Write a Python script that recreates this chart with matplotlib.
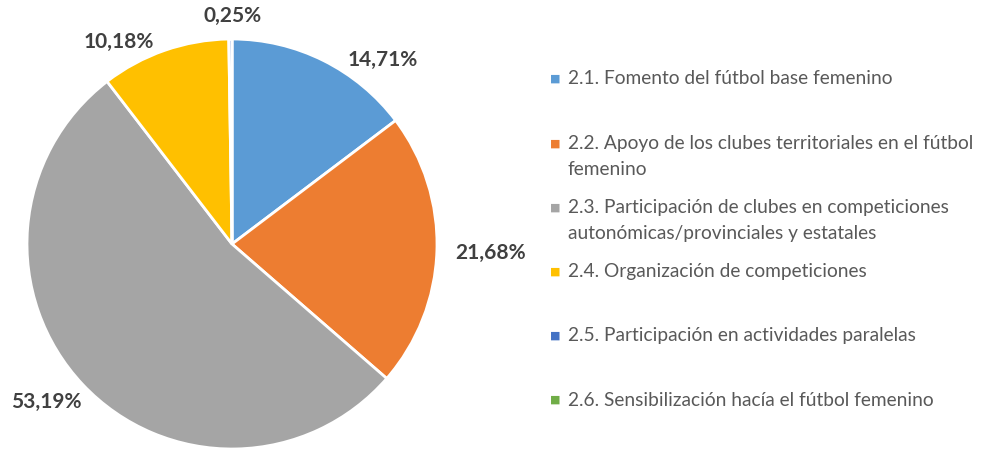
import numpy as np
import matplotlib
matplotlib.use("Agg")
import matplotlib.pyplot as plt

# data
labels = [
    "2.1. Fomento del fútbol base femenino",
    "2.2. Apoyo de los clubes territoriales en el fútbol\nfemenino",
    "2.3. Participación de clubes en competiciones\nautonómicas/provinciales y estatales",
    "2.4. Organización de competiciones",
    "2.5. Participación en actividades paralelas",
    "2.6. Sensibilización hacía el fútbol femenino",
]
values = [14.71, 21.68, 53.19, 10.18, 0.25, 0.0]
pct_text = ["14,71%", "21,68%", "53,19%", "10,18%", "0,25%", ""]
colors = ["#5B9BD5", "#ED7D31", "#A5A5A5", "#FFC000", "#4472C4", "#70AD47"]

# label placement (angle offset in degrees, distance in radii)
label_shift = [-13, 0, -3, 10, -0.5, 0]
label_dist = [1.16, 1.26, 1.19, 1.13, 1.11, 1.1]

W, H = 983, 451
fig = plt.figure(figsize=(W / 100, H / 100), dpi=100)
plt.rcParams["font.family"] = ["Lato", "DejaVu Sans"]

cx, cy, r = 232, 244, 205
ax = fig.add_axes([(cx - r) / W, (H - cy - r) / H, 2 * r / W, 2 * r / H])
wedges, _ = ax.pie(values, colors=colors, startangle=90, counterclock=False,
                   radius=1, wedgeprops=dict(edgecolor="white", linewidth=2))
ax.set_xlim(-1, 1)
ax.set_ylim(-1, 1)
ax.set_aspect("equal")
ax.axis("off")

for i, w in enumerate(wedges):
    if not pct_text[i]:
        continue
    ang = np.deg2rad((w.theta1 + w.theta2) / 2 + label_shift[i])
    d = label_dist[i]
    ax.text(d * np.cos(ang), d * np.sin(ang), pct_text[i], ha="center", va="center",
            fontsize=15, fontweight="bold", color="#404040", clip_on=False)

# legend drawn by hand to keep the slot spacing of the original
for i, lab in enumerate(labels):
    y = 79 + i * 64.2
    fig.text(550 / W, 1 - y / H, "■", fontsize=8, color=colors[i],
             ha="left", va="center", family="DejaVu Sans")
    for j, line in enumerate(lab.split("\n")):
        fig.text(568 / W, 1 - (y + j * 26) / H, line, fontsize=13.8, color="#595959",
                 ha="left", va="center")

fig.savefig("out.png", dpi=100)
